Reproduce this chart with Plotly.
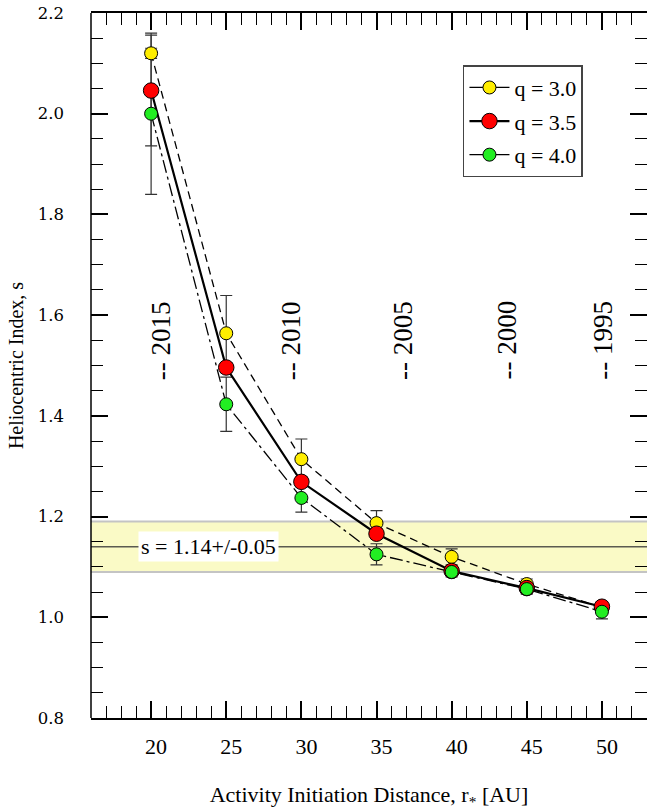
import plotly.graph_objects as go

# Activity initiation distance r* [AU]
r_star = [20, 25, 30, 35, 40, 45, 50]

# Heliocentric index s for three size-distribution indices q
s_q30 = [2.120, 1.564, 1.314, 1.187, 1.120, 1.066, 1.020]
s_q35 = [2.046, 1.496, 1.269, 1.166, 1.092, 1.058, 1.021]
s_q40 = [2.000, 1.423, 1.237, 1.125, 1.090, 1.056, 1.011]

# Uncertainties on s
err_q30 = [0.010, 0.075, 0.040, 0.025, 0.016, 0.010, 0.010]
err_q35 = [0.110, 0.010, 0.010, 0.010, 0.010, 0.010, 0.010]
err_q40 = [0.160, 0.054, 0.028, 0.021, 0.010, 0.010, 0.014]

q_labels = ["q = 3.0", "q = 3.5", "q = 4.0"]

# Epochs at which the comet passed the given distances
year_labels = ["2015", "2010", "2005", "2000", "1995"]
year_r = [20.65, 29.3, 36.8, 43.7, 50.1]
year_s = 1.55

# Measured heliocentric index
s_fit = 1.14
s_fit_err = 0.05

serif = "Liberation Serif"

series = [
    dict(y=s_q30, err=err_q30, name=q_labels[0], color="#FFEE00", size=13,
         dash="8px,5px", width=1.3),
    dict(y=s_q35, err=err_q35, name=q_labels[1], color="#FF0000", size=15.5,
         dash="solid", width=2.2),
    dict(y=s_q40, err=err_q40, name=q_labels[2], color="#22EE22", size=13,
         dash="13px,4px,3px,4px", width=1.3),
]

fig = go.Figure()

# error bars underneath everything
for s in series:
    fig.add_trace(go.Scatter(
        x=r_star, y=s["y"], mode="markers",
        marker=dict(size=1, opacity=0),
        error_y=dict(type="data", array=s["err"], visible=True,
                     color="#333333", thickness=1.2, width=6),
        showlegend=False, hoverinfo="skip"))

# connecting curves
for s in series:
    fig.add_trace(go.Scatter(
        x=r_star, y=s["y"], mode="lines",
        line=dict(color="black", width=s["width"], dash=s["dash"]),
        showlegend=False, hoverinfo="skip"))

# markers
for s in series:
    fig.add_trace(go.Scatter(
        x=r_star, y=s["y"], mode="markers",
        marker=dict(size=s["size"], color=s["color"],
                    line=dict(color="black", width=1)),
        name=s["name"], showlegend=False))

# legend entries
for i, s in enumerate(series):
    fig.add_trace(go.Scatter(
        x=[None], y=[None], mode="lines+markers",
        marker=dict(size=s["size"], color=s["color"],
                    line=dict(color="black", width=1)),
        line=dict(color="black", width=s["width"]),
        name=s["name"], legendgroup=f"g{i}", showlegend=True))

shapes = [
    dict(type="rect", xref="paper", yref="y", x0=0, x1=1,
         y0=s_fit - s_fit_err, y1=s_fit + s_fit_err,
         fillcolor="#FAFAC6", line=dict(width=0), layer="below"),
    dict(type="line", xref="paper", yref="y", x0=0, x1=1,
         y0=s_fit + s_fit_err, y1=s_fit + s_fit_err,
         line=dict(color="#C4C4C4", width=2), layer="below"),
    dict(type="line", xref="paper", yref="y", x0=0, x1=1,
         y0=s_fit - s_fit_err, y1=s_fit - s_fit_err,
         line=dict(color="#C4C4C4", width=2), layer="below"),
    dict(type="line", xref="paper", yref="y", x0=0, x1=1,
         y0=s_fit, y1=s_fit,
         line=dict(color="#5A5A50", width=1.5), layer="below"),
    # left frame edge
    dict(type="line", xref="paper", yref="paper", x0=0, x1=0, y0=0, y1=1,
         line=dict(color="black", width=1.5)),
]

annotations = [
    dict(x=xr, y=year_s, xref="x", yref="y", text="-- " + yr,
         textangle=-90, showarrow=False,
         font=dict(family=serif, size=27, color="black"))
    for xr, yr in zip(year_r, year_labels)
]
annotations.append(dict(
    x=23.8, y=s_fit, xref="x", yref="y",
    text=f"s = {s_fit:.2f}+/-{s_fit_err:.2f}", showarrow=False,
    bgcolor="white", borderpad=2,
    font=dict(family=serif, size=22, color="black")))

fig.update_layout(
    width=647, height=810,
    margin=dict(l=91, r=0, t=13, b=92),
    paper_bgcolor="white", plot_bgcolor="white",
    font=dict(family=serif, color="black"),
    shapes=shapes, annotations=annotations,
    legend=dict(x=0.669, y=0.926, xanchor="left", yanchor="top",
                bgcolor="white", bordercolor="#444444", borderwidth=1.5,
                font=dict(family=serif, size=22, color="black"),
                tracegroupgap=2, itemwidth=40),
    xaxis=dict(
        range=[16, 53], tickmode="array", tickvals=r_star,
        ticktext=[str(v) for v in r_star],
        ticks="inside", ticklen=17, tickwidth=1.5, tickcolor="black",
        showline=True, linecolor="black", linewidth=1.5, mirror="ticks",
        showgrid=False, zeroline=False, automargin=False,
        minor=dict(tickmode="linear", tick0=0, dtick=1, ticks="inside",
                   ticklen=12, tickwidth=1.2, tickcolor="black",
                   showgrid=False),
        tickfont=dict(family=serif, size=22, color="black"),
        ticklabelstandoff=8, ticklabelshift=5,
        title=dict(text="Activity Initiation Distance, r<sub>*</sub> [AU]",
                   font=dict(family=serif, size=22, color="black"),
                   standoff=30),
    ),
    yaxis=dict(
        range=[0.8, 2.2], tickmode="linear", tick0=0.8, dtick=0.2,
        tickformat=".1f",
        ticks="inside", ticklen=17, tickwidth=1.5, tickcolor="black",
        showline=False, mirror="ticks",
        showgrid=False, zeroline=False, automargin=False,
        minor=dict(tickmode="linear", tick0=0.8, dtick=0.05, ticks="inside",
                   ticklen=12, tickwidth=1.2, tickcolor="black",
                   showgrid=False),
        tickfont=dict(family="DejaVu Serif", size=16.5, color="black"),
        ticklabelstandoff=26,
        title=dict(text="Heliocentric Index, s",
                   font=dict(family=serif, size=20, color="black"),
                   standoff=8),
    ),
)

fig.write_html("out.html")
